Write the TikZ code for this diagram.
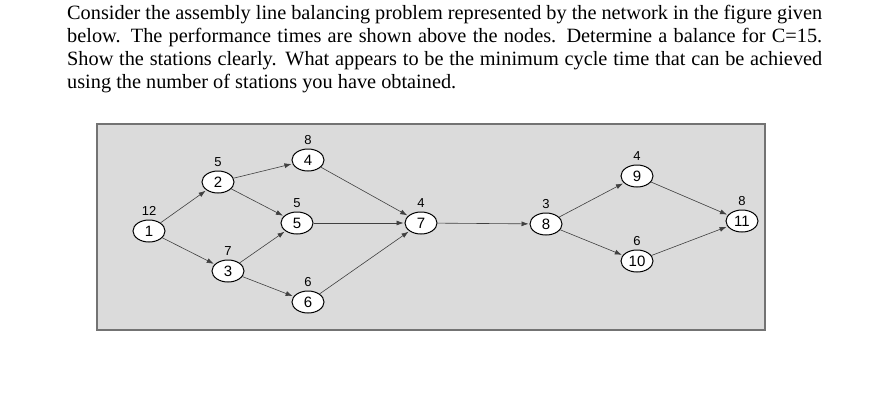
\documentclass[tikz,border=0pt]{standalone}
\usepackage{fontspec}
\usetikzlibrary{shapes.geometric,arrows.meta}
\setmainfont{Liberation Serif}
\newfontfamily\arialf{Liberation Sans}
\begin{document}
\begin{tikzpicture}[x=1pt,y=-1pt,
  nd/.style={draw,ellipse,fill=white,line width=1pt,minimum width=32pt,minimum height=22pt,inner sep=0pt,font=\arialf\fontsize{15}{15}\selectfont},
  lb/.style={font=\arialf\fontsize{13}{13}\selectfont},
  ar/.style={-{Latex[length=7pt,width=5pt]},draw=black!75,line width=0.6pt,shorten >=1pt}]
\useasboundingbox (0,0) rectangle (882,407);
\fill[white] (0,0) rectangle (882,407);
\node[anchor=north west,inner sep=0pt] (txt) at (67,5) {\parbox{755pt}{\fontsize{20.3}{23}\selectfont
Consider the assembly line balancing problem represented by the network in the figure given below. The performance times are shown above the nodes. Determine a balance for C=15. Show the stations clearly. What appears to be the minimum cycle time that can be achieved using the number of stations you have obtained.}};
\draw[fill=black!14,draw=black!55,line width=1.2pt] (97,124) rectangle (765,330);
\foreach \n/\x/\y/\t in {1/149/231/12,2/218/182/5,3/228/271/7,4/308/160/8,5/297/223/5,6/308/302/6,7/421/223/4,8/546/224/3,9/637/176/4,10/637/261/6,11/742/221/8}{
  \node[nd] (n\n) at (\x,\y) {\n};
  \node[lb] (l\n) at (\x,\y-20) {\t};
}
\foreach \a/\b in {1/2,1/3,2/4,2/5,3/5,3/6,4/7,5/7,6/7,7/8,8/9,8/10,9/11,10/11}
  \draw[ar] (n\a) -- (n\b);
\end{tikzpicture}
\end{document}
